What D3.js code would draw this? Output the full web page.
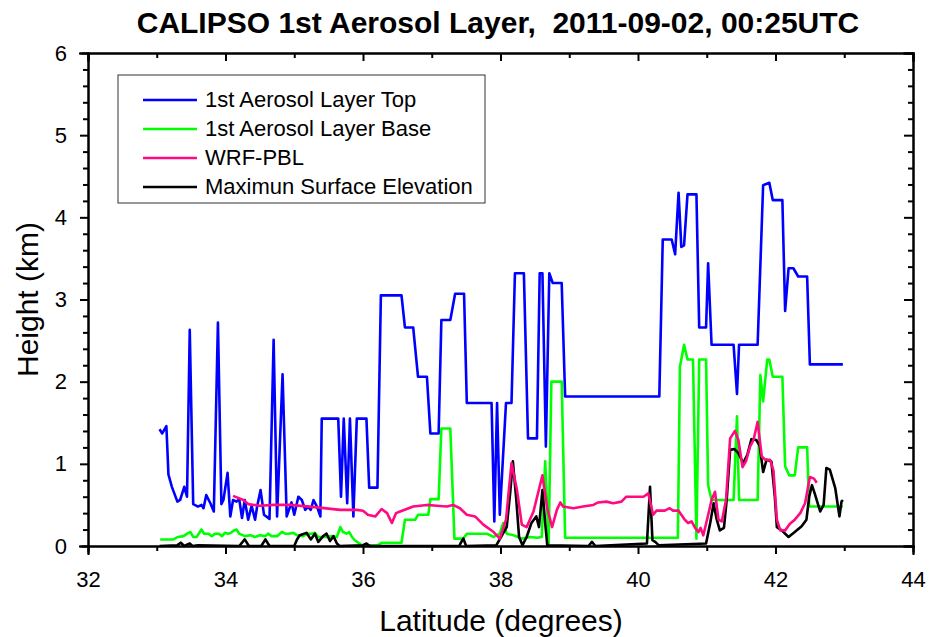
<!DOCTYPE html>
<html>
<head>
<meta charset="utf-8" />
<title>CALIPSO 1st Aerosol Layer</title>
<style>
    body { margin: 0; background: #fff; }
    text { font-family: "Liberation Sans", Arial, sans-serif; }
    .axis path, .axis line { stroke: #000; stroke-width: 2; }
    .axis text { font-size: 22px; fill: #000; }
</style>
<script src="https://d3js.org/d3.v7.min.js"></script>
</head>
<body>
<script>

// chart data: [latitude, height km]
const layerTop = [
    [33.04,1.42],[33.08,1.37],[33.14,1.46],[33.17,0.87],[33.22,0.72],[33.30,0.54],[33.34,0.56],[33.40,0.72],
    [33.44,0.60],[33.48,2.63],[33.53,0.51],[33.60,0.48],[33.65,0.50],[33.68,0.46],[33.72,0.62],[33.78,0.52],
    [33.83,0.42],[33.89,2.72],[33.94,0.51],[33.97,0.56],[34.03,0.89],[34.07,0.36],[34.11,0.56],[34.16,0.54],
    [34.20,0.57],[34.24,0.34],[34.28,0.56],[34.33,0.32],[34.38,0.49],[34.43,0.32],[34.46,0.48],[34.51,0.68],
    [34.56,0.38],[34.64,0.33],[34.70,2.51],[34.75,0.36],[34.83,2.09],[34.89,0.36],[34.96,0.53],[35.00,0.38],
    [35.06,0.60],[35.11,0.56],[35.16,0.44],[35.20,0.48],[35.24,0.44],[35.28,0.56],[35.33,0.48],[35.38,0.36],
    [35.40,1.55],[35.64,1.55],[35.68,0.60],[35.72,1.55],[35.77,0.52],[35.81,1.55],[35.86,0.36],[35.91,1.55],
    [36.05,1.55],[36.09,0.71],[36.21,0.71],[36.26,3.05],[36.56,3.05],[36.61,2.66],[36.73,2.66],[36.80,2.06],
    [36.93,2.06],[36.98,1.37],[37.10,1.37],[37.14,2.75],[37.27,2.75],[37.34,3.07],[37.47,3.07],[37.51,1.74],
    [37.87,1.74],[37.91,0.30],[37.95,1.74],[37.99,0.38],[38.08,1.74],[38.16,1.74],[38.21,3.32],[38.34,3.32],
    [38.40,1.31],[38.53,1.31],[38.57,3.32],[38.61,3.32],[38.66,1.21],[38.71,3.32],[38.76,3.20],[38.89,3.20],
    [38.94,1.82],[40.31,1.82],[40.36,3.73],[40.49,3.73],[40.54,3.55],[40.59,4.30],[40.63,3.64],[40.67,3.66],
    [40.72,4.28],[40.85,4.28],[40.89,2.66],[40.99,2.66],[41.02,3.44],[41.07,2.45],[41.39,2.45],[41.44,1.85],
    [41.47,2.45],[41.74,2.45],[41.82,4.39],[41.91,4.42],[41.96,4.21],[42.10,4.21],[42.14,2.86],[42.19,3.38],
    [42.26,3.38],[42.33,3.28],[42.46,3.28],[42.50,2.21],[42.98,2.21]
];

const layerBase = [
    [33.05,0.08],[33.24,0.08],[33.31,0.11],[33.39,0.12],[33.46,0.16],[33.49,0.17],[33.53,0.11],[33.58,0.11],
    [33.65,0.20],[33.69,0.15],[33.75,0.15],[33.80,0.12],[33.85,0.15],[33.90,0.15],[33.95,0.12],[33.99,0.16],
    [34.04,0.15],[34.08,0.16],[34.12,0.19],[34.16,0.20],[34.20,0.15],[34.28,0.12],[34.36,0.13],[34.43,0.11],
    [34.50,0.13],[34.58,0.12],[34.62,0.15],[34.67,0.12],[34.75,0.12],[34.82,0.17],[34.87,0.15],[34.91,0.15],
    [34.99,0.16],[35.04,0.13],[35.13,0.12],[35.20,0.15],[35.25,0.15],[35.30,0.16],[35.35,0.11],[35.47,0.11],
    [35.55,0.12],[35.62,0.11],[35.67,0.23],[35.71,0.17],[35.76,0.15],[35.80,0.17],[35.84,0.11],[35.88,0.07],
    [35.98,0.01],[36.22,0.01],[36.27,0.04],[36.56,0.04],[36.61,0.32],[36.76,0.32],[36.80,0.38],[36.95,0.38],
    [36.98,0.57],[37.10,0.57],[37.14,1.43],[37.27,1.43],[37.33,0.09],[37.46,0.09],[37.51,0.15],[37.80,0.15],
    [37.90,0.11],[37.99,0.15],[38.04,0.28],[38.09,0.15],[38.19,0.13],[38.31,0.09],[38.43,0.11],[38.53,0.10],
    [38.60,0.11],[38.65,1.03],[38.70,0.03],[38.74,2.00],[38.89,2.00],[38.94,0.10],[40.58,0.10],[40.61,2.18],
    [40.67,2.45],[40.72,2.27],[40.80,2.27],[40.85,0.09],[40.89,2.27],[40.99,2.27],[41.02,0.74],[41.07,0.56],
    [41.39,0.56],[41.44,1.58],[41.47,0.56],[41.74,0.56],[41.78,2.08],[41.82,1.76],[41.88,2.27],[41.91,2.27],
    [41.96,2.06],[42.10,2.06],[42.14,0.97],[42.20,0.86],[42.28,0.86],[42.33,1.20],[42.46,1.20],[42.49,0.48],
    [42.98,0.48]
];

const wrfPbl = [
    [34.11,0.61],[34.26,0.56],[34.33,0.51],[34.50,0.49],[34.70,0.50],[34.94,0.50],[35.33,0.47],[35.67,0.44],
    [35.91,0.44],[36.00,0.43],[36.07,0.38],[36.18,0.36],[36.27,0.45],[36.35,0.40],[36.42,0.28],[36.48,0.40],
    [36.54,0.42],[36.73,0.48],[36.93,0.50],[37.07,0.49],[37.22,0.48],[37.31,0.50],[37.41,0.46],[37.51,0.38],
    [37.63,0.36],[37.75,0.26],[37.90,0.17],[37.99,0.09],[38.08,0.32],[38.16,1.01],[38.24,0.68],[38.31,0.26],
    [38.38,0.23],[38.48,0.42],[38.61,0.86],[38.68,0.46],[38.75,0.23],[38.82,0.44],[38.87,0.53],[38.91,0.48],
    [39.06,0.46],[39.20,0.48],[39.35,0.50],[39.42,0.53],[39.54,0.54],[39.64,0.52],[39.76,0.54],[39.83,0.60],
    [40.08,0.60],[40.15,0.64],[40.22,0.38],[40.27,0.43],[40.39,0.43],[40.46,0.46],[40.51,0.43],[40.59,0.43],
    [40.68,0.32],[40.73,0.28],[40.78,0.30],[40.83,0.22],[40.88,0.17],[40.91,0.22],[40.95,0.13],[41.01,0.34],
    [41.07,0.56],[41.12,0.66],[41.17,0.32],[41.22,0.30],[41.28,0.56],[41.34,1.31],[41.41,1.40],[41.46,1.29],
    [41.52,0.96],[41.57,1.03],[41.63,1.21],[41.68,1.29],[41.74,1.51],[41.80,1.09],[41.85,1.05],[41.92,1.05],
    [41.97,0.92],[42.02,0.32],[42.07,0.19],[42.14,0.19],[42.21,0.27],[42.28,0.32],[42.36,0.40],[42.43,0.52],
    [42.50,0.84],[42.56,0.82],[42.60,0.77]
];

const surfaceElev = [
    [33.04,0.00],[33.30,0.01],[33.35,0.04],[33.40,0.00],[33.48,0.03],[33.52,0.00],[33.60,0.01],[34.20,0.00],
    [34.28,0.08],[34.34,0.00],[34.52,0.00],[34.58,0.08],[34.64,0.00],[35.00,0.00],[35.04,0.08],[35.08,0.13],
    [35.18,0.16],[35.24,0.08],[35.30,0.15],[35.35,0.05],[35.42,0.12],[35.47,0.15],[35.52,0.06],[35.57,0.12],
    [35.62,0.03],[35.66,0.00],[36.00,0.01],[36.05,0.03],[36.10,0.00],[37.40,0.00],[37.43,0.05],[37.46,0.09],
    [37.50,0.00],[37.94,0.01],[38.09,0.23],[38.14,0.64],[38.18,1.03],[38.23,0.56],[38.27,0.11],[38.32,0.01],
    [38.38,0.11],[38.45,0.28],[38.52,0.36],[38.56,0.23],[38.61,0.68],[38.65,0.28],[38.68,0.01],[39.28,0.00],
    [39.33,0.05],[39.38,0.00],[40.13,0.03],[40.175,0.72],[40.21,0.07],[40.25,0.05],[40.30,0.01],[40.99,0.03],
    [41.05,0.28],[41.10,0.52],[41.14,0.34],[41.19,0.19],[41.25,0.22],[41.29,0.56],[41.34,1.17],[41.40,1.18],
    [41.46,1.13],[41.53,1.01],[41.59,1.11],[41.65,1.30],[41.72,1.29],[41.77,1.22],[41.82,0.90],[41.87,1.05],
    [41.94,1.03],[41.99,0.60],[42.02,0.23],[42.09,0.19],[42.19,0.11],[42.28,0.17],[42.38,0.24],[42.45,0.32],
    [42.49,0.60],[42.53,0.74],[42.57,0.64],[42.65,0.42],[42.70,0.50],[42.74,0.95],[42.79,0.93],[42.87,0.70],
    [42.93,0.36],[42.96,0.54],[42.98,0.56]
];

const xTicks = [32, 34, 36, 38, 40, 42, 44];
const yTicks = [0, 1, 2, 3, 4, 5, 6];

const seriesNames = ["1st Aerosol Layer Top", "1st Aerosol Layer Base", "WRF-PBL", "Maximun Surface Elevation"];
const seriesColors = ["#0000ff", "#00ff00", "#ff0a80", "#000000"];

// layout
const W = 930, H = 637;
const margin = { top: 53, right: 17, bottom: 91, left: 88 };
const w = W - margin.left - margin.right,
      h = H - margin.top - margin.bottom;

const svg = d3.select("body").append("svg")
    .attr("width", W)
    .attr("height", H);

const g = svg.append("g")
    .attr("transform", "translate(" + margin.left + "," + margin.top + ")");

const x = d3.scaleLinear().domain([32, 44]).range([0, w]);
const y = d3.scaleLinear().domain([0, 6]).range([h, 0]);

// minor ticks
const xMinor = d3.range(33, 44, 2);
const yMinor = d3.range(0, 6.001, 0.2).filter(v => Math.abs(v - Math.round(v)) > 0.01);

const line = d3.line()
    .x(d => x(d[0]))
    .y(d => y(d[1]));

// series (legend order: top, base, pbl, surface)
const allSeries = [layerTop, layerBase, wrfPbl, surfaceElev];
const drawOrder = [0, 1, 3, 2];
drawOrder.forEach(i => {
    g.append("path")
        .datum(allSeries[i])
        .attr("fill", "none")
        .attr("stroke", seriesColors[i])
        .attr("stroke-width", 2.6)
        .attr("stroke-linejoin", "round")
        .attr("d", line);
});

// axes
g.append("g").attr("class", "axis")
    .attr("transform", "translate(0," + h + ")")
    .call(d3.axisBottom(x).tickValues(xTicks).tickSize(8).tickPadding(17).tickFormat(d3.format("d")));
g.append("g").attr("class", "axis")
    .attr("transform", "translate(0," + h + ")")
    .call(d3.axisBottom(x).tickValues(xMinor).tickSize(5).tickFormat(""));

g.append("g").attr("class", "axis")
    .call(d3.axisLeft(y).tickValues(yTicks).tickSize(8).tickPadding(13).tickFormat(d3.format("d")));
g.append("g").attr("class", "axis")
    .call(d3.axisLeft(y).tickValues(yMinor).tickSize(5).tickFormat(""));

// top and right, ticks pointing inward
g.append("g").attr("class", "axis")
    .call(d3.axisBottom(x).tickValues(xTicks).tickSize(8).tickFormat(""));
g.append("g").attr("class", "axis")
    .call(d3.axisBottom(x).tickValues(xMinor).tickSize(5).tickFormat(""));
g.append("g").attr("class", "axis")
    .attr("transform", "translate(" + w + ",0)")
    .call(d3.axisLeft(y).tickValues(yTicks).tickSize(9).tickFormat(""));
g.append("g").attr("class", "axis")
    .attr("transform", "translate(" + w + ",0)")
    .call(d3.axisLeft(y).tickValues(yMinor).tickSize(5).tickFormat(""));

g.selectAll(".axis path").attr("stroke-linecap", "square");

// title and labels
svg.append("text")
    .attr("x", 498).attr("y", 33)
    .attr("text-anchor", "middle")
    .style("font-size", "30px")
    .style("font-weight", "bold")
    .style("white-space", "pre")
    .text("CALIPSO 1st Aerosol Layer,  2011-09-02, 00:25UTC");

svg.append("text")
    .attr("x", 501).attr("y", 631)
    .attr("text-anchor", "middle")
    .style("font-size", "30px")
    .text("Latitude (degrees)");

svg.append("text")
    .attr("transform", "translate(38," + (margin.top + h / 2) + ") rotate(-90)")
    .attr("text-anchor", "middle")
    .style("font-size", "30px")
    .text("Height (km)");

// legend
const legend = svg.append("g").attr("transform", "translate(118,75)");
legend.append("rect")
    .attr("width", 367).attr("height", 128)
    .attr("fill", "#fff")
    .attr("stroke", "#333")
    .attr("stroke-width", 1);

seriesNames.forEach((name, i) => {
    const ly = 25 + i * 29;
    legend.append("line")
        .attr("x1", 25).attr("x2", 79)
        .attr("y1", ly).attr("y2", ly)
        .attr("stroke", seriesColors[i])
        .attr("stroke-width", 2.6);
    legend.append("text")
        .attr("x", 87).attr("y", ly + 7)
        .style("font-size", "22px")
        .text(name);
});

</script>
</body>
</html>
